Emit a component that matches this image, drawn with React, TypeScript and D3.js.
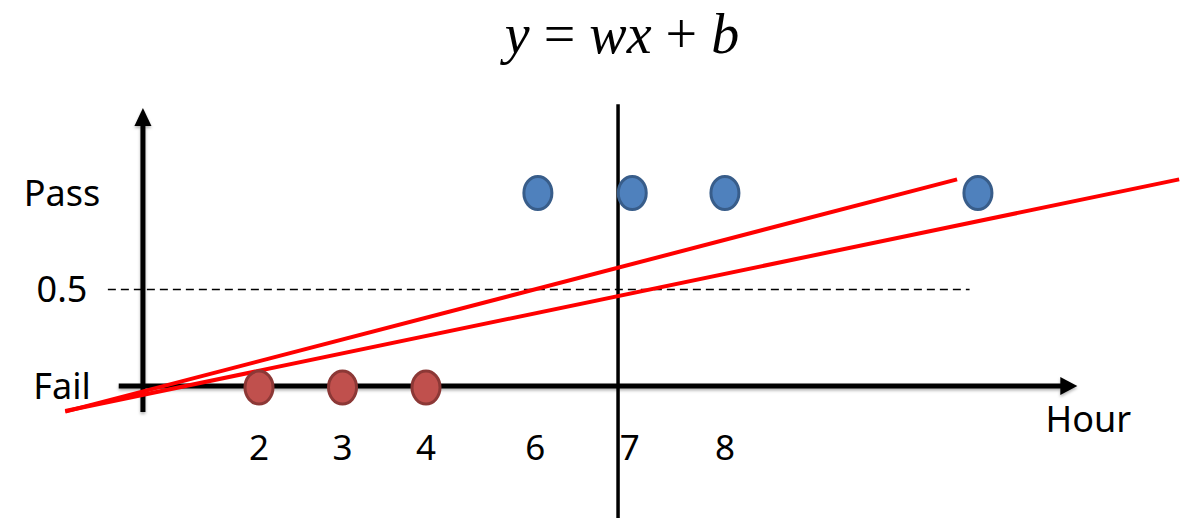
import * as d3 from 'd3';

// hours where the drawn marks sit (the sketch is not evenly spaced)
const failHours = [2, 3, 4];
const passHours = [5.34, 6.47, 7.58, 10.61];
const tickHours = [2, 3, 4, 5.31, 6.44, 7.58];
const tickLabels = ['2', '3', '4', '6', '7', '8'];
const yTicks = [1, 0.5, 0];
const yTickLabels = ['Pass', '0.5', 'Fail'];
const fits = [
  { w: 0.1127, b: -0.097, from: -0.32, to: 10.36 },
  { w: 0.09, b: -0.101, from: -0.32, to: 13.02 },
];
const thresholdHour = 6.3;
const dashedFrom = 0.19;
const dashedTo = 10.51;
const xAxisFrom = 0.32;
const xAxisTo = 11.8;
const yAxisTop = 1.44;
const yAxisBottom = -0.135;

const W = 1182;
const H = 518;
const labelFont = '"Noto Sans", "Open Sans", sans-serif';

export default function App() {
  const x = d3.scaleLinear().domain([0, 12]).range([92, 1094]);
  const y = d3.scaleLinear().domain([0, 1]).range([386, 193]);

  const line = d3
    .line<number>()
    .x((d) => x(d[0]))
    .y((d) => y(d[1]));

  const ax0 = x(xAxisFrom);
  const ax1 = x(xAxisTo);
  const ay = y(0);
  const yx = x(0.61);
  const yTop = y(yAxisTop);

  return (
    <div>
      <style>{'body{margin:0}'}</style>
      <svg width={W} height={H} style={{ display: 'block', background: '#fff' }}>
        <defs>
          <filter id="shadow" x="-5%" y="-50%" width="110%" height="200%">
            <feDropShadow dx="0" dy="2" stdDeviation="1.5" floodColor="#000" floodOpacity="0.3" />
          </filter>
        </defs>

        <text
          x={622}
          y={53}
          textAnchor="middle"
          fontFamily='"Liberation Serif", "DejaVu Serif", serif'
          fontSize={56}
        >
          <tspan fontStyle="italic">y</tspan> = <tspan fontStyle="italic">wx</tspan> + <tspan fontStyle="italic">b</tspan>
        </text>

        {/* threshold at 0.5 */}
        <line
          x1={x(dashedFrom)}
          x2={x(dashedTo)}
          y1={y(0.5)}
          y2={y(0.5)}
          stroke="#000"
          strokeWidth={1.5}
          strokeDasharray="8,5"
        />

        {/* axes */}
        <g filter="url(#shadow)">
          <line x1={ax0} x2={ax1 - 14} y1={ay} y2={ay} stroke="#000" strokeWidth={5} />
          <path d={`M${ax1},${ay} L${ax1 - 17},${ay - 9} L${ax1 - 17},${ay + 9} Z`} fill="#000" />
          <line x1={yx} x2={yx} y1={y(yAxisBottom)} y2={yTop + 14} stroke="#000" strokeWidth={5} />
          <path d={`M${yx},${yTop} L${yx - 8.5},${yTop + 18} L${yx + 8.5},${yTop + 18} Z`} fill="#000" />
        </g>

        {/* decision boundary */}
        <line
          x1={x(thresholdHour)}
          x2={x(thresholdHour)}
          y1={y(1.46)}
          y2={H}
          stroke="#000"
          strokeWidth={3.5}
        />

        {fits.map((f, i) => (
          <path
            key={i}
            d={line([
              [f.from, f.w * f.from + f.b],
              [f.to, f.w * f.to + f.b],
            ] as any) ?? ''}
            fill="none"
            stroke="#ff0000"
            strokeWidth={4}
          />
        ))}

        {failHours.map((h, i) => (
          <ellipse
            key={'f' + i}
            cx={x(h)}
            cy={y(0) + 1.5}
            rx={14}
            ry={16.5}
            fill="#c0504d"
            stroke="#8c3836"
            strokeWidth={3}
          />
        ))}
        {passHours.map((h, i) => (
          <ellipse
            key={'p' + i}
            cx={x(h)}
            cy={y(1)}
            rx={14}
            ry={16.5}
            fill="#4f81bd"
            stroke="#385d8a"
            strokeWidth={3}
          />
        ))}

        {tickHours.map((h, i) => (
          <text
            key={'t' + i}
            x={x(h)}
            y={460}
            textAnchor="middle"
            fontFamily={labelFont}
            fontSize={35}
            fill="#000"
          >
            {tickLabels[i]}
          </text>
        ))}

        {yTicks.map((v, i) => (
          <text
            key={'y' + i}
            x={62}
            y={y(v)}
            dy="0.36em"
            textAnchor="middle"
            fontFamily={labelFont}
            fontSize={36}
            fill="#000"
          >
            {yTickLabels[i]}
          </text>
        ))}

        <text x={ax1 + 11} y={432} textAnchor="middle" fontFamily={labelFont} fontSize={36} fill="#000">
          Hour
        </text>
      </svg>
    </div>
  );
}
